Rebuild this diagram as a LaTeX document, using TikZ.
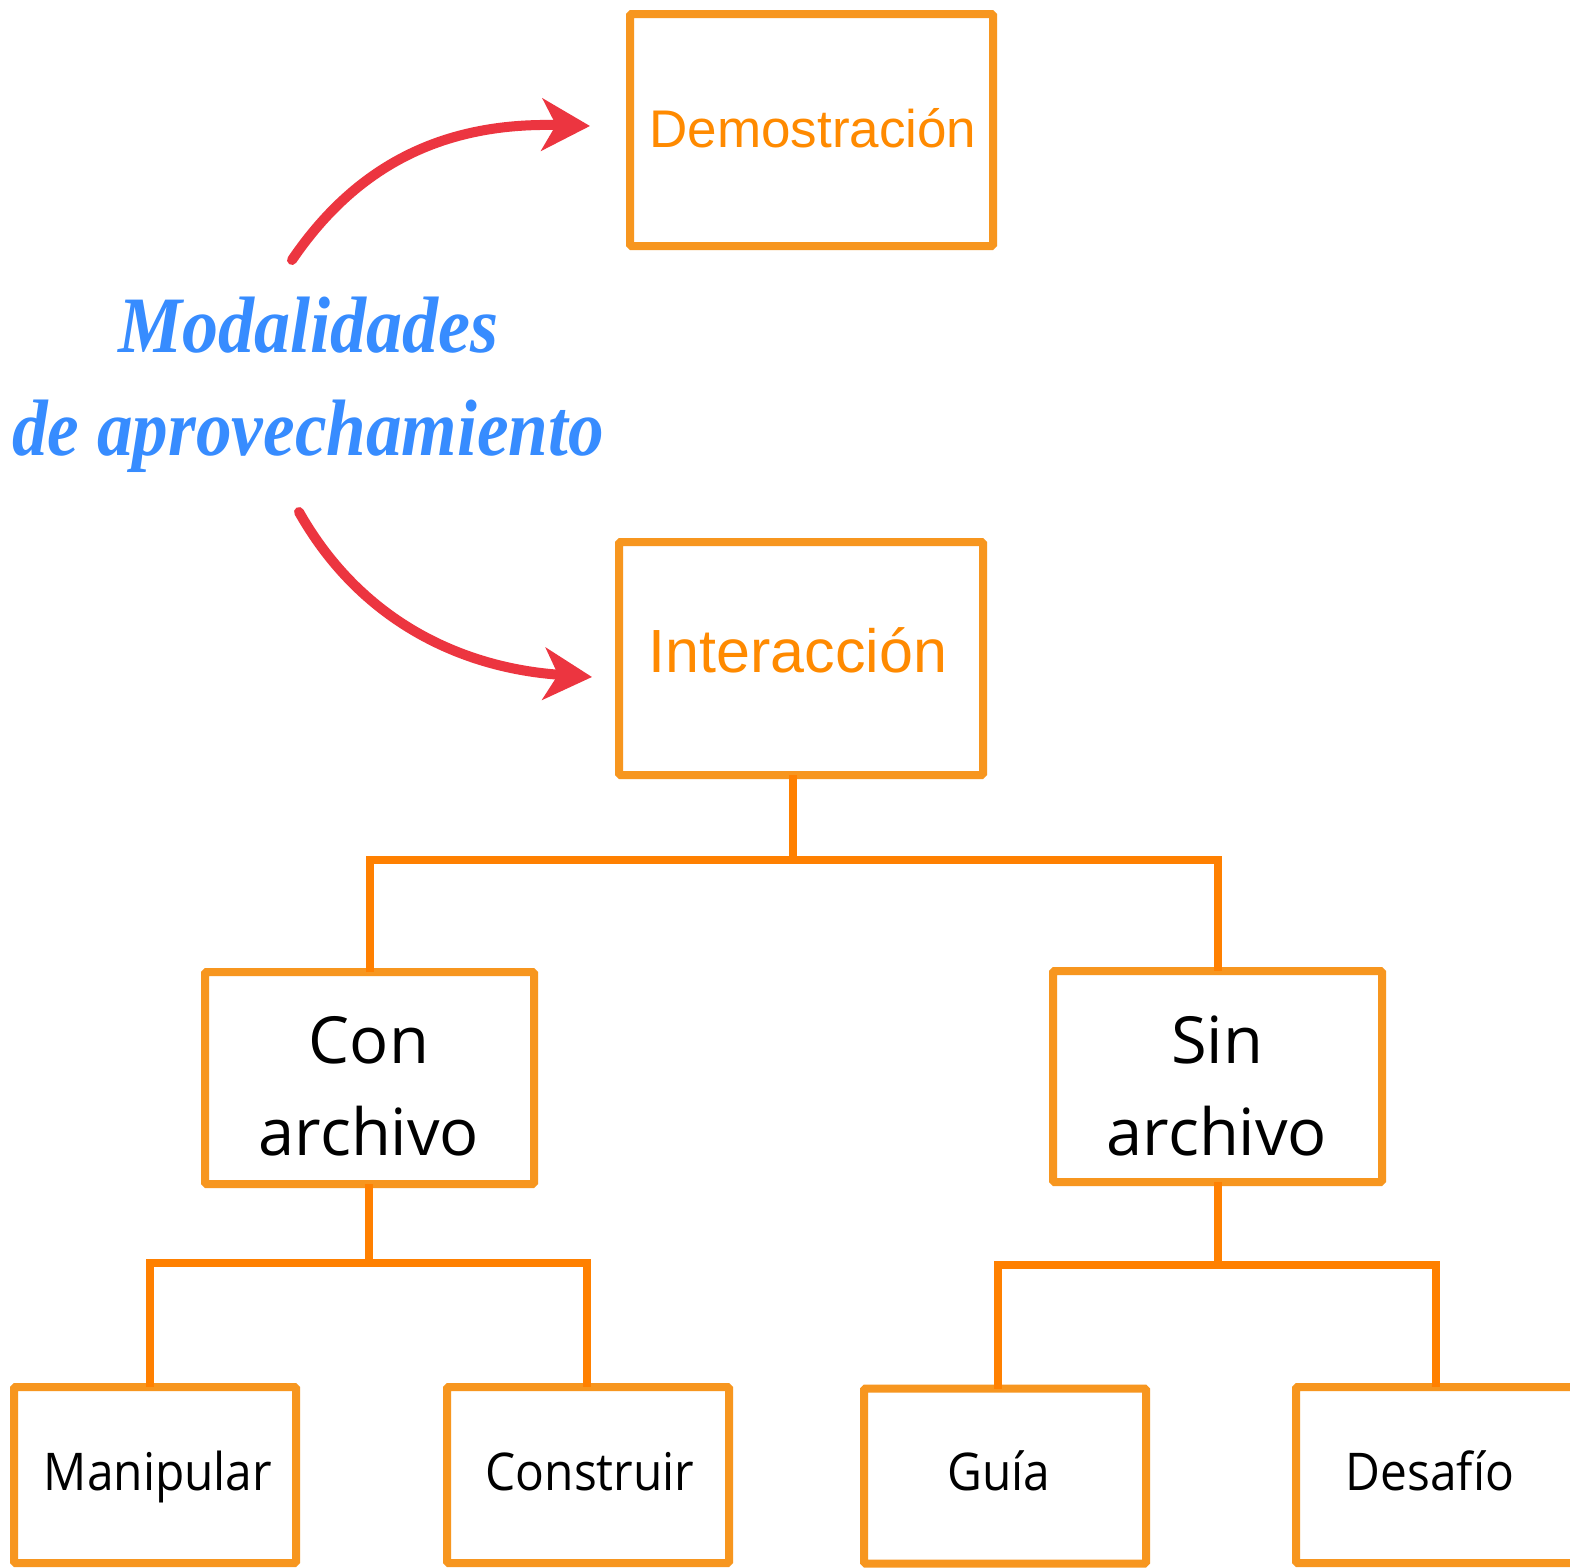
\documentclass[tikz,border=0pt]{standalone}
\usepackage{fontspec}
\setmainfont{Open Sans}
\newfontfamily\arialf{Liberation Sans}
\newfontfamily\scriptf{Liberation Serif}
\usetikzlibrary{arrows.meta}
\definecolor{boxor}{HTML}{F7961F}
\definecolor{lineor}{HTML}{FF8000}
\definecolor{txtor}{HTML}{FF8A00}
\definecolor{titleblue}{HTML}{378CFF}
\definecolor{arrred}{HTML}{EC3540}
\begin{document}
\begin{tikzpicture}[x=1pt,y=-1pt,
  obox/.style={draw=boxor, line width=8pt, rounded corners=1.5pt, inner sep=0pt, outer sep=0pt},
  conn/.style={draw=lineor, line width=8pt},
  redarrow/.style={color=arrred, line width=10pt, line cap=round,
     -{Stealth[length=48pt, width=52pt, inset=14pt, color=arrred, fill=arrred]}},
  orangetxt/.style={text=txtor, font=\arialf\fontsize{53}{60}\selectfont, inner sep=0pt},
  bigtxt/.style={text=black, font=\fontsize{65}{92}\selectfont, align=center, inner sep=0pt},
  smalltxt/.style={text=black, font=\fontsize{52}{60}\selectfont, inner sep=0pt},
  titletxt/.style={text=titleblue, font=\scriptf\bfseries\itshape\fontsize{80}{103}\selectfont, align=center, inner sep=0pt}]
\clip (0,0) rectangle (1570,1567);
\fill[white] (0,0) rectangle (1570,1567);
% boxes
\node[obox, minimum width=363pt, minimum height=232pt] (demo) at (811.5,130) {};
\node[obox, minimum width=364pt, minimum height=233pt] (inter) at (801,658.5) {};
\node[obox, minimum width=329pt, minimum height=212pt] (con) at (369.5,1078) {};
\node[obox, minimum width=329pt, minimum height=211pt] (sin) at (1217.5,1076.5) {};
\node[obox, minimum width=282pt, minimum height=176pt] (manip) at (155,1475) {};
\node[obox, minimum width=282pt, minimum height=176pt] (constr) at (588,1475) {};
\node[obox, minimum width=282pt, minimum height=175pt] (guia) at (1005,1476) {};
\node[obox, minimum width=300pt, minimum height=176pt] (desaf) at (1446,1475) {};
% texts
\node[orangetxt] (demoT) at (813,128) {Demostración};
\node[orangetxt, font=\arialf\fontsize{61}{70}\selectfont] (interT) at (798,650) {Interacción};
\node[bigtxt] (conT) at (369,1086) {Con\\archivo};
\node[bigtxt] (sinT) at (1217,1086) {Sin\\archivo};
\node[smalltxt, anchor=base] (manipT) at (158,1490) {\scalebox{0.92}[1]{Manipular}};
\node[smalltxt, anchor=base] (constrT) at (590,1490) {\scalebox{0.92}[1]{Construir}};
\node[smalltxt, anchor=base] (guiaT) at (999,1490) {\scalebox{0.92}[1]{Guía}};
\node[smalltxt, anchor=base] (desafT) at (1430,1490) {\scalebox{0.92}[1]{Desafío}};
\node[titletxt, anchor=base] (title1) at (308,352) {\scalebox{0.9}[1]{Modalidades}};
\node[titletxt, anchor=base] (title2) at (308,455) {\scalebox{0.89}[1]{de aprovechamiento}};
% connectors
\coordinate (j1) at (793,860);
\coordinate (j2) at (369,1263);
\coordinate (j3) at (1218,1265);
\draw[conn] (j1 |- inter.south) -- (j1);
\draw[conn] (con.north) -- (con.north |- j1) -- (sin.north |- j1) -- (sin.north);
\draw[conn] (j2 |- con.south) -- (j2);
\draw[conn] (150,0 |- manip.north) -- (150,0 |- j2) -- (587,0 |- j2) -- (587,0 |- constr.north);
\draw[conn] (j3 |- sin.south) -- (j3);
\draw[conn] (998,0 |- guia.north) -- (998,0 |- j3) -- (1436,0 |- j3) -- (1436,0 |- desaf.north);
% red arrows
\coordinate (a1s) at (292,260);
\coordinate (a1e) at (590,126);
\coordinate (a2s) at (299,512);
\coordinate (a2e) at (592,677);
\draw[redarrow] (a1s) .. controls (360,160) and (450,122) .. (a1e);
\draw[redarrow] (a2s) .. controls (360,620) and (460,668) .. (a2e);
\end{tikzpicture}
\end{document}
